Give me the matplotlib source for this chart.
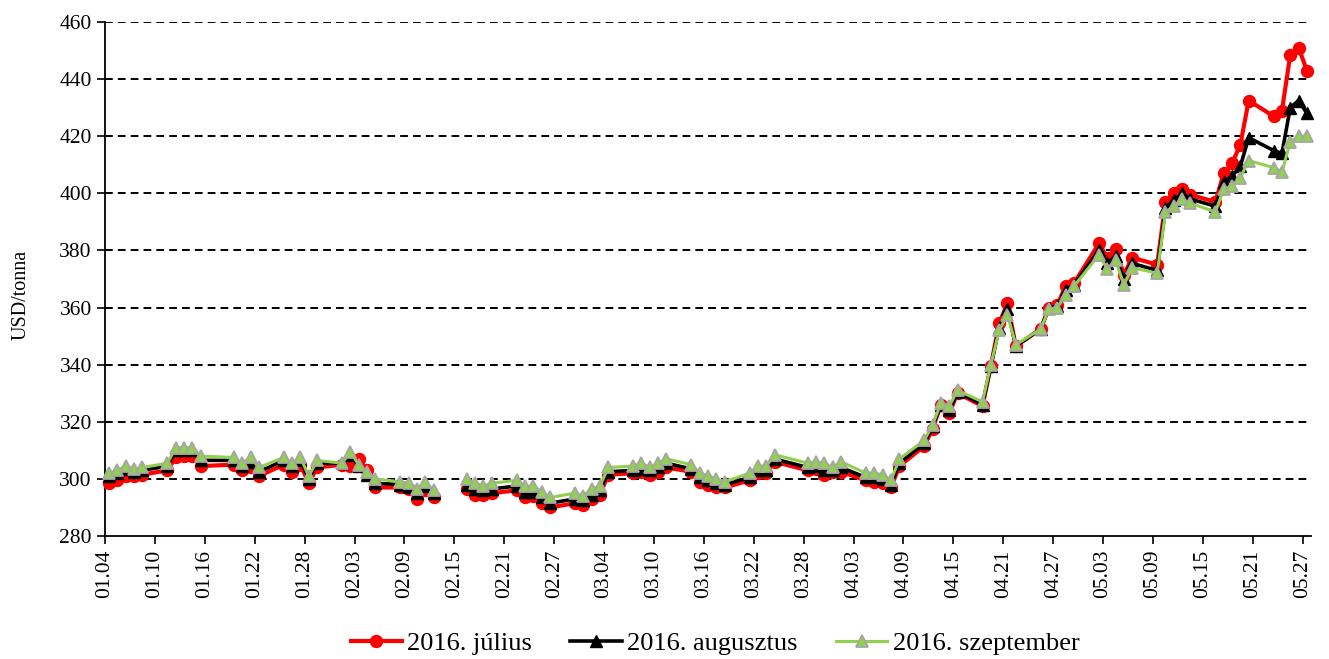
import numpy as np
import pandas as pd
import matplotlib
matplotlib.use('Agg')
from matplotlib import pyplot as plt
import matplotlib.dates as mdates

plt.rcParams['font.family'] = ['Liberation Serif', 'DejaVu Serif']

# trading days, 2016 (02.15 has no quote -> gap in the lines)
dates = [
    '01-04', '01-05', '01-06', '01-07', '01-08',
    '01-11', '01-12', '01-13', '01-14', '01-15',
    '01-19', '01-20', '01-21', '01-22',
    '01-25', '01-26', '01-27', '01-28', '01-29',
    '02-01', '02-02', '02-03', '02-04', '02-05',
    '02-08', '02-09', '02-10', '02-11', '02-12',
    '02-15',
    '02-16', '02-17', '02-18', '02-19',
    '02-22', '02-23', '02-24', '02-25', '02-26',
    '02-29', '03-01', '03-02', '03-03', '03-04',
    '03-07', '03-08', '03-09', '03-10', '03-11',
    '03-14', '03-15', '03-16', '03-17', '03-18',
    '03-21', '03-22', '03-23', '03-24',
    '03-28', '03-29', '03-30', '03-31', '04-01',
    '04-04', '04-05', '04-06', '04-07', '04-08',
    '04-11', '04-12', '04-13', '04-14', '04-15',
    '04-18', '04-19', '04-20', '04-21', '04-22',
    '04-25', '04-26', '04-27', '04-28', '04-29',
    '05-02', '05-03', '05-04', '05-05', '05-06',
    '05-09', '05-10', '05-11', '05-12', '05-13',
    '05-16', '05-17', '05-18', '05-19', '05-20',
    '05-23', '05-24', '05-25', '05-26', '05-27',
]

julius = [
    298.5, 299.5, 301, 301, 301.5,
    303, 307.5, 308, 308, 304.5,
    305, 303, 304, 301,
    305, 302.5, 305, 298.5, 304,
    305, 304.5, 307, 303, 297,
    297, 296.5, 293, 296, 293.5,
    np.nan,
    296.5, 294.5, 294.5, 295,
    296, 293.5, 294, 291.5, 290,
    291.5, 291, 293, 294.5, 301.5,
    302, 302.5, 301.5, 302.5, 304,
    302.5, 299, 298, 297, 297,
    299.5, 302, 302, 306,
    303, 303.5, 301.5, 302.5, 302.5,
    299.5, 299, 298.5, 297, 304.5,
    311.5, 317.5, 326, 323, 330,
    325.5, 339.5, 354.5, 361.5, 346.5,
    352.5, 360, 361, 367.5, 368.5,
    382.5, 377.5, 380.5, 371.5, 377.5,
    375, 397, 400, 401.5, 399.5,
    397, 407, 410.5, 417, 432.5,
    427, 429, 448.5, 451, 443,
]

augusztus = [
    301, 302, 303.5, 302.5, 303,
    304.5, 310, 310, 310, 306.5,
    306.5, 304.5, 306, 302.5,
    306.5, 304.5, 306.5, 300, 305.5,
    305.5, 308.5, 304.5, 301.5, 298.5,
    298, 297, 295, 297.5, 295,
    np.nan,
    298, 296.5, 296, 296.5,
    297.5, 295.5, 295.5, 293.5, 291.5,
    293, 292.5, 294.5, 296, 302.5,
    303, 303.5, 303, 304, 305.5,
    303.5, 300.5, 299.5, 298.5, 298,
    300.5, 303, 303, 307,
    304, 304.5, 303, 303, 304,
    300.5, 300.5, 300, 298, 305.5,
    312.5, 318.5, 326, 324, 330.5,
    326, 339.5, 353, 359.5, 346.5,
    352.5, 360, 360.5, 366, 368,
    380, 375.5, 378, 370, 375.5,
    373, 395, 397.5, 400, 398,
    395.5, 404, 406, 409.5, 419.5,
    415, 414, 430, 432.5, 428,
]

szeptember = [
    302, 303, 304.5, 303.5, 304,
    305.5, 311, 311, 311, 308,
    307.5, 305.5, 307.5, 304,
    307.5, 305.5, 307.5, 301, 306.5,
    305.5, 309.5, 305, 302.5, 300,
    299, 298.5, 296.5, 299, 296,
    np.nan,
    300, 298.5, 297.5, 298.5,
    299.5, 297.5, 297.5, 295.5, 293.5,
    295, 294, 296.5, 297.5, 304,
    304.5, 305.5, 304, 305.5, 307,
    305, 302, 301, 300, 299,
    302, 304.5, 304.5, 308.5,
    305.5, 306, 305.5, 304, 306,
    302, 302, 301.5, 299.5, 307,
    313.5, 319, 326.5, 325.5, 331,
    327, 340, 352, 357.5, 347,
    352.5, 359.5, 360, 364.5, 367.5,
    378.5, 373.5, 376.5, 368, 374,
    372, 393.5, 395.5, 398, 396.5,
    393.5, 401.5, 402.5, 405.5, 411.5,
    409, 407.5, 418, 420, 420,
]

series_labels = ['2016. július', '2016. augusztus', '2016. szeptember']

# points sit in the middle of their day, ticks on the day boundary
x = pd.to_datetime(['2016-' + d for d in dates]) + pd.Timedelta(hours=12)

fig = plt.figure(figsize=(13.29, 6.59), dpi=100)
ax = fig.add_axes([0.079, 0.1866, 0.9075, 0.78])

ax.plot(x, julius, color='#FF0000', lw=3.0, marker='o', ms=8.6,
        mec='#FF0000', mfc='#FF0000', label=series_labels[0], zorder=3,
        clip_on=False)
ax.plot(x, augusztus, color='#000000', lw=2.6, marker='^', ms=8,
        mec='#000000', mfc='#000000', label=series_labels[1], zorder=4,
        clip_on=False)
ax.plot(x, szeptember, color='#92D050', lw=2.2, marker='^', ms=8.5,
        mec='#A6A6A6', mfc='#92D050', mew=1.3, label=series_labels[2],
        zorder=5, clip_on=False)

ax.set_ylim(280, 460)
ax.set_yticks(np.arange(280, 461, 20))
for yv in np.arange(300, 461, 20):
    ax.axhline(yv, color='black', lw=1.4, dashes=(4, 2.6), zorder=1)

start = pd.Timestamp('2016-01-04')
ax.set_xlim(start, pd.Timestamp('2016-05-28'))
ticks = pd.date_range(start, pd.Timestamp('2016-05-27'), freq='6D')
ax.set_xticks(ticks)
ax.xaxis.set_major_formatter(mdates.DateFormatter('%m.%d'))
plt.setp(ax.get_xticklabels(), rotation=90)

ax.tick_params(axis='both', labelsize=15.5, direction='out', length=6,
               width=1.2, color='black')
ax.tick_params(axis='x', pad=4)
for side in ['top', 'right']:
    ax.spines[side].set_visible(False)
for side in ['left', 'bottom']:
    ax.spines[side].set_linewidth(1.3)

ax.set_ylabel('USD/tonna', fontsize=14.5)
ax.yaxis.set_label_coords(-0.062, 0.47)

fig.legend(loc='center', bbox_to_anchor=(0.538, 0.024), ncol=3,
           frameon=False, fontsize=19, handlelength=1.95,
           handletextpad=0.2, columnspacing=1.45)

fig.savefig('out.png', dpi=100)
